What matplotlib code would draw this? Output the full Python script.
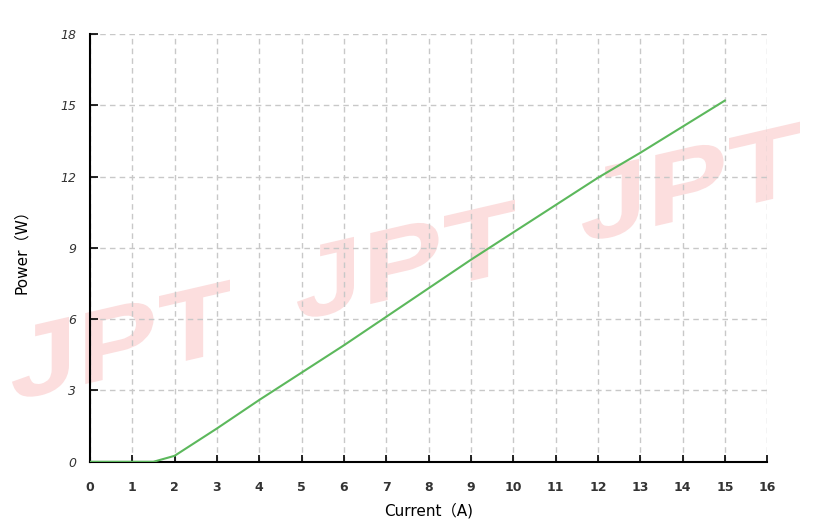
import matplotlib.pyplot as plt
from matplotlib.textpath import TextPath
from matplotlib.patches import PathPatch
from matplotlib.font_manager import FontProperties
from matplotlib.transforms import Affine2D, IdentityTransform

# data
current = [0, 1, 1.5, 2, 3, 4, 5, 6, 7, 8, 9, 10, 11, 12, 13, 14, 15]
power = [0, 0, 0, 0.25, 1.4, 2.6, 3.75, 4.9, 6.1, 7.3, 8.5, 9.65, 10.8, 11.95, 13.0, 14.1, 15.2]
x_ticks = list(range(0, 17))
y_ticks = [0, 3, 6, 9, 12, 15, 18]

fig = plt.figure(figsize=(8.17, 5.32), dpi=100)
ax = fig.add_axes([0.110, 0.132, 0.829, 0.804])

# "JPT" watermark, sheared so the baseline rises to the right
tp = TextPath((0, 0), "JPT", size=80, prop=FontProperties(family="Liberation Sans", weight="bold"))
ext = tp.get_extents()
for px, py in [(12, 130), (297, 210), (582, 288)]:
    tr = (Affine2D().translate(-ext.x0, -ext.y0)
          .scale(218 / ext.width, 72 / ext.height)
          .skew_deg(0, 13).translate(px, py))
    fig.patches.append(PathPatch(tr.transform_path(tp), transform=IdentityTransform(),
                                 facecolor="#fcdede", edgecolor="none", zorder=-1))

ax.plot(current, power, color="#5cb85c", lw=1.5, zorder=3)

ax.set_xlim(0, 16)
ax.set_ylim(0, 18)
ax.set_xticks(x_ticks)
ax.set_yticks(y_ticks)
ax.set_xticklabels([str(t) for t in x_ticks], fontsize=9, fontweight="bold", color="#333333")
ax.set_yticklabels([str(t) for t in y_ticks], fontsize=9, style="italic", color="#333333")
ax.tick_params(axis="x", direction="in", length=5, width=1.2, pad=14)
ax.tick_params(axis="y", direction="in", length=6, width=1.2, pad=10)

ax.grid(True, color="#c8c8c8", linestyle=(0, (4, 3)), lw=1)
ax.set_axisbelow(True)
ax.patch.set_alpha(0)
for s in ["top", "right"]:
    ax.spines[s].set_visible(False)
for s in ["left", "bottom"]:
    ax.spines[s].set_linewidth(1.5)

ax.set_xlabel("Current（A)", fontsize=11, family=["DejaVu Sans", "Noto Sans CJK SC"], labelpad=6)
ax.set_ylabel("Power（W）", fontsize=11, family=["DejaVu Sans", "Noto Sans CJK SC"], labelpad=22)

fig.savefig("out.png", dpi=100)
